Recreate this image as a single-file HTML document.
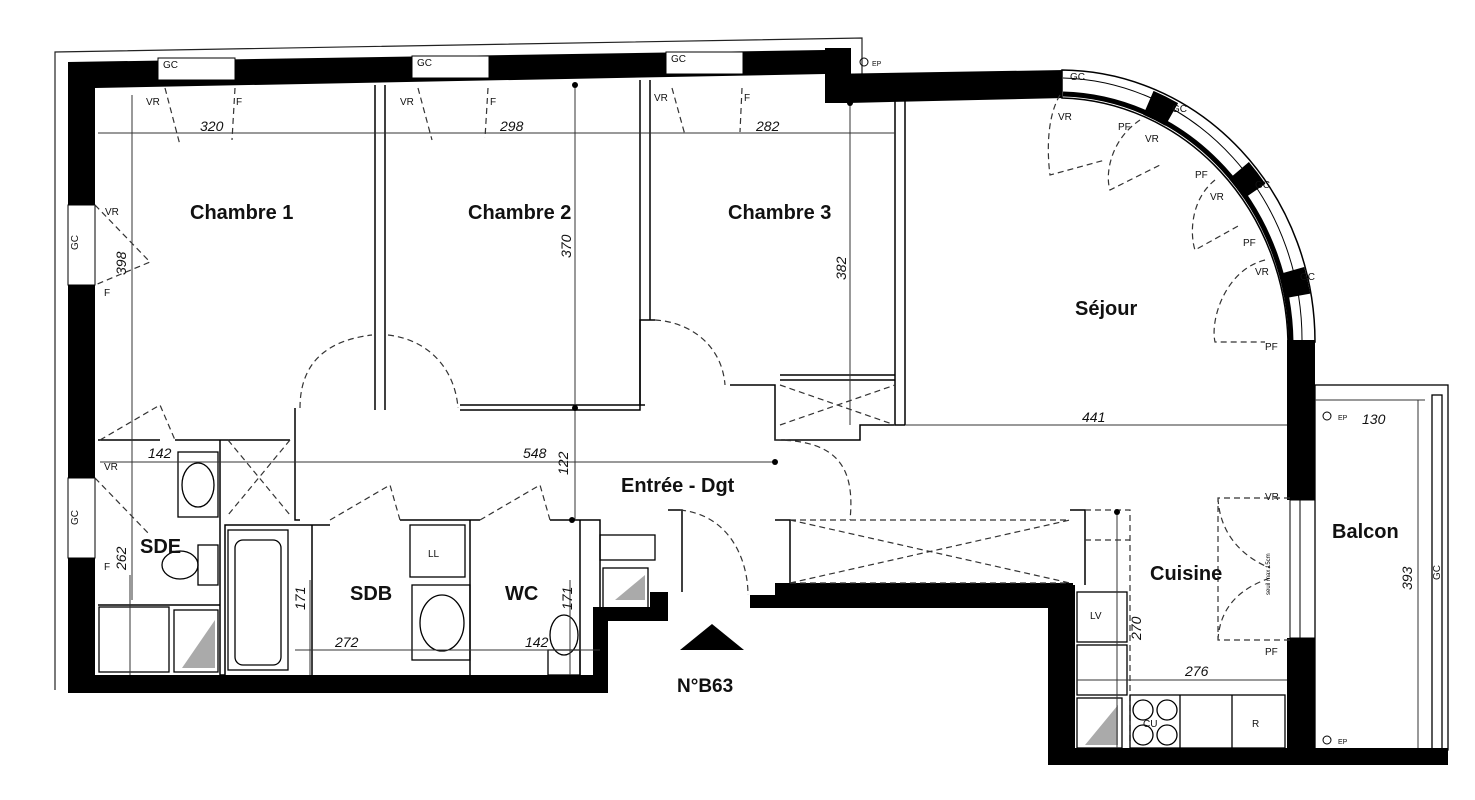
<!DOCTYPE html>
<html><head><meta charset="utf-8"><style>
html,body{margin:0;padding:0;background:#fff;}
svg{display:block;}
text{font-family:"Liberation Sans",sans-serif;}
.lbl{font-size:20px;font-weight:bold;fill:#111;}
.dim{font-size:14px;font-style:italic;fill:#111;}
.sm{font-size:10px;fill:#111;}
.d{fill:none;stroke:#333;stroke-width:1.2;stroke-dasharray:6 4;}
.t{fill:none;stroke:#222;stroke-width:1.2;}
</style></head><body>
<svg width="1475" height="800" viewBox="0 0 1475 800" xmlns="http://www.w3.org/2000/svg">
<polyline class="t" points="55,690 55,52 862,38 862,74"/>
<!-- top wall -->
<polygon points="68,62 825,50 825,74 1065,70 1065,98 848,103 825,103 825,74 95,88 95,62" fill="#000"/>
<rect x="825" y="48" width="26" height="55" fill="#000"/>
<polygon points="68,62 95,62 95,690 68,690" fill="#000"/>
<!-- arc wall -->
<path d="M1062,70 A255,272 0 0 1 1315,342 L1288,342 A232,250 0 0 0 1062,98 Z" fill="#fff" stroke="#000" stroke-width="1.5"/>
<path d="M1063,94 A234,252 0 0 1 1291,342" fill="none" stroke="#000" stroke-width="5"/>
<path d="M1063,78 A245,262 0 0 1 1302,342" fill="none" stroke="#000" stroke-width="1"/>
<path d="M1063,84 A245,262 0 0 1 1302,342" fill="none" stroke="#000" stroke-width="26" stroke-dasharray="0 88 26 88 26 88 26 400" opacity="1"/>
<!-- right wall -->
<rect x="1287" y="340" width="28" height="160" fill="#000"/>
<rect x="1287" y="638" width="28" height="127" fill="#000"/>
<rect x="1290" y="500" width="25" height="138" fill="#fff" stroke="#000"/>
<line x1="1300" y1="500" x2="1300" y2="638" stroke="#000"/>
<!-- bottom walls -->
<rect x="68" y="675" width="540" height="18" fill="#000"/>
<rect x="593" y="608" width="15" height="85" fill="#000"/>
<rect x="593" y="607" width="72" height="14" fill="#000"/>
<rect x="650" y="592" width="18" height="29" fill="#000"/>
<rect x="750" y="595" width="28" height="13" fill="#000"/>
<rect x="775" y="583" width="298" height="25" fill="#000"/>
<rect x="1048" y="585" width="27" height="180" fill="#000"/>
<rect x="1048" y="748" width="400" height="17" fill="#000"/>
<g fill="#fff" stroke="#000">
<rect x="158" y="58" width="77" height="22"/><rect x="412" y="56" width="77" height="22"/><rect x="666" y="52" width="77" height="22"/>
<rect x="68" y="205" width="27" height="80"/><rect x="68" y="478" width="27" height="80"/>
</g>
<g class="sm"><text x="163" y="68">GC</text><text x="417" y="66">GC</text><text x="671" y="62">GC</text>
<text x="1070" y="80">GC</text><text x="1172" y="112">GC</text><text x="1255" y="188">GC</text><text x="1300" y="280">GC</text>
<text x="78" y="250" transform="rotate(-90 78 250)">GC</text><text x="78" y="525" transform="rotate(-90 78 525)">GC</text>
<text x="146" y="105">VR</text><text x="236" y="105">F</text><text x="400" y="105">VR</text><text x="490" y="105">F</text><text x="654" y="101">VR</text><text x="744" y="101">F</text>
<text x="1058" y="120">VR</text><text x="1118" y="130">PF</text><text x="1145" y="142">VR</text><text x="1195" y="178">PF</text><text x="1210" y="200">VR</text><text x="1243" y="246">PF</text><text x="1255" y="275">VR</text><text x="1265" y="350">PF</text>
<text x="1265" y="500">VR</text><text x="1265" y="655">PF</text><text x="105" y="215">VR</text><text x="104" y="296">F</text><text x="104" y="470">VR</text><text x="104" y="570">F</text>
<text x="872" y="66" font-size="7">EP</text><text x="1338" y="420" font-size="7">EP</text><text x="1338" y="744" font-size="7">EP</text>
</g>
<circle cx="864" cy="62" r="4" fill="none" stroke="#000"/><circle cx="1327" cy="416" r="4" fill="none" stroke="#000"/><circle cx="1327" cy="740" r="4" fill="none" stroke="#000"/>
<g class="d">
<path d="M165,88 L180,145 M235,88 L232,140"/><path d="M418,88 L432,140 M488,88 L485,138"/><path d="M672,88 L685,135 M742,88 L740,132"/>
<path d="M1060,95 C1045,120 1048,160 1050,175 L1105,160"/><path d="M1140,120 C1110,140 1105,175 1110,190 L1160,165"/>
<path d="M1215,180 C1190,200 1190,235 1195,250 L1240,225"/><path d="M1265,260 C1225,270 1210,320 1215,342 L1265,342"/>
<path d="M95,205 L150,262 L95,285"/><path d="M95,478 L150,535"/>
<path d="M1290,498 L1218,498 L1218,640 L1290,640 M1218,498 C1220,540 1250,560 1270,568 M1218,640 C1220,600 1250,585 1270,578"/>
</g>
<g stroke="#000" stroke-width="1.5" fill="none">
<line x1="375" y1="85" x2="375" y2="410"/><line x1="385" y1="85" x2="385" y2="410"/>
<line x1="640" y1="80" x2="640" y2="405"/><line x1="650" y1="80" x2="650" y2="320"/>
<polyline points="460,410 640,410 640,320 655,320"/><polyline points="460,405 645,405"/>
<line x1="895" y1="100" x2="895" y2="425"/><line x1="905" y1="100" x2="905" y2="425"/>
<polyline points="730,385 775,385 775,440 860,440 860,425 905,425"/>
<polyline points="780,375 895,375"/><polyline points="780,380 895,380"/>
<polyline points="295,408 295,520 300,520"/><polyline points="175,440 290,440"/>
<polyline points="220,440 220,675 225,675 225,525 330,525"/>
<polyline points="400,520 480,520"/><polyline points="550,520 600,520 600,675"/>
<line x1="312" y1="525" x2="312" y2="675"/><line x1="470" y1="520" x2="470" y2="675"/>
<line x1="580" y1="520" x2="580" y2="675"/>
<polyline points="98,440 160,440"/><line x1="98" y1="605" x2="220" y2="605"/>
<polyline points="668,510 682,510 682,592"/><polyline points="775,520 790,520 790,583"/>
<polyline points="1070,510 1085,510 1085,585"/>
</g>
<g class="d">
<path d="M300,408 C300,360 330,340 372,335"/><path d="M388,335 C430,340 455,370 458,408"/>
<path d="M655,320 C690,322 722,345 725,385"/><path d="M775,440 C840,440 855,470 850,520"/>
<path d="M680,510 C730,515 748,560 748,595"/><path d="M330,520 L390,485 L400,520"/>
<path d="M480,520 L540,485 L550,520"/><path d="M100,440 L160,405 L175,440"/>
<path d="M790,520 L1070,520 M790,583 L1070,520 M790,520 L1070,583 M790,583 L1070,583"/>
<path d="M780,385 L895,425 M780,425 L895,385"/>
<path d="M228,440 L290,515 M290,440 L228,515"/>
<path d="M1085,510 L1130,510 L1130,745 M1085,540 L1130,540"/>
</g>
<g stroke="#000" fill="none" stroke-width="1.3">
<rect x="228" y="530" width="60" height="140"/><rect x="235" y="540" width="46" height="125" rx="8"/>
<rect x="410" y="525" width="55" height="52"/><text x="428" y="557" class="sm" font-size="13" stroke="none" fill="#000">LL</text>
<rect x="412" y="585" width="58" height="75"/><ellipse cx="442" cy="623" rx="22" ry="28"/>
<rect x="178" y="452" width="40" height="65"/><ellipse cx="198" cy="485" rx="16" ry="22"/>
<rect x="198" y="545" width="20" height="40"/><ellipse cx="180" cy="565" rx="18" ry="14"/>
<rect x="99" y="607" width="70" height="65"/><rect x="174" y="610" width="44" height="62"/>
<rect x="548" y="650" width="32" height="25"/><ellipse cx="564" cy="635" rx="14" ry="20"/>
<rect x="600" y="535" width="55" height="25"/><rect x="603" y="568" width="45" height="40"/>
<rect x="1077" y="592" width="50" height="50"/><rect x="1077" y="645" width="50" height="50"/>
<rect x="1077" y="698" width="45" height="50"/><rect x="1130" y="695" width="155" height="53"/>
<line x1="1180" y1="695" x2="1180" y2="748"/><line x1="1232" y1="695" x2="1232" y2="748"/>
<circle cx="1143" cy="710" r="10"/><circle cx="1167" cy="710" r="10"/><circle cx="1143" cy="735" r="10"/><circle cx="1167" cy="735" r="10"/>
<rect x="1315" y="385" width="133" height="365"/><rect x="1432" y="395" width="10" height="355"/>
</g>
<polygon points="615,600 645,600 645,575" fill="#aaa"/><polygon points="182,668 215,668 215,620" fill="#aaa"/><polygon points="1085,745 1118,745 1118,705" fill="#aaa"/>
<text x="1090" y="619" class="sm" font-size="13">LV</text><text x="1143" y="727" class="sm" font-size="13">CU</text><text x="1252" y="727" class="sm" font-size="13">R</text>
<g stroke="#333" stroke-width="1">
<line x1="98" y1="133" x2="895" y2="133"/><line x1="132" y1="95" x2="132" y2="600"/>
<line x1="575" y1="85" x2="575" y2="520"/><line x1="850" y1="100" x2="850" y2="425"/>
<line x1="905" y1="425" x2="1287" y2="425"/><line x1="100" y1="462" x2="775" y2="462"/>
<line x1="295" y1="650" x2="600" y2="650"/><line x1="1117" y1="512" x2="1117" y2="748"/>
<line x1="1077" y1="680" x2="1287" y2="680"/><line x1="1315" y1="400" x2="1425" y2="400"/><line x1="1418" y1="400" x2="1418" y2="748"/>
<line x1="130" y1="575" x2="130" y2="675"/><line x1="570" y1="580" x2="570" y2="675"/><line x1="310" y1="580" x2="310" y2="675"/>
</g>
<g fill="#000"><circle cx="575" cy="85" r="3"/><circle cx="575" cy="408" r="3"/><circle cx="775" cy="462" r="3"/><circle cx="1117" cy="512" r="3"/><circle cx="572" cy="520" r="3"/><circle cx="850" cy="103" r="3"/></g>
<g class="dim">
<text x="200" y="131">320</text><text x="500" y="131">298</text><text x="756" y="131">282</text>
<text x="1082" y="422">441</text><text x="1362" y="424">130</text><text x="148" y="458">142</text><text x="523" y="458">548</text>
<text x="335" y="647">272</text><text x="525" y="647">142</text><text x="1185" y="676">276</text>
<text x="126" y="275" transform="rotate(-90 126 275)">398</text><text x="571" y="258" transform="rotate(-90 571 258)">370</text>
<text x="846" y="280" transform="rotate(-90 846 280)">382</text><text x="568" y="475" transform="rotate(-90 568 475)">122</text>
<text x="126" y="570" transform="rotate(-90 126 570)">262</text><text x="305" y="610" transform="rotate(-90 305 610)">171</text>
<text x="572" y="610" transform="rotate(-90 572 610)">171</text><text x="1141" y="640" transform="rotate(-90 1141 640)">270</text>
<text x="1412" y="590" transform="rotate(-90 1412 590)">393</text>
</g>
<text x="1270" y="595" font-size="6" transform="rotate(-90 1270 595)">seuil max 15cm</text>
<text x="1440" y="580" class="sm" transform="rotate(-90 1440 580)">GC</text>
<g class="lbl">
<text x="190" y="219">Chambre 1</text><text x="468" y="219">Chambre 2</text><text x="728" y="219">Chambre 3</text>
<text x="1075" y="315">Séjour</text><text x="621" y="492">Entrée - Dgt</text><text x="1150" y="580">Cuisine</text>
<text x="1332" y="538">Balcon</text><text x="140" y="553">SDE</text><text x="350" y="600">SDB</text><text x="505" y="600">WC</text>
<text x="677" y="692" font-size="19">N°B63</text>
</g>
<polygon points="680,650 712,624 744,650" fill="#000"/>
</svg>
</body></html>
